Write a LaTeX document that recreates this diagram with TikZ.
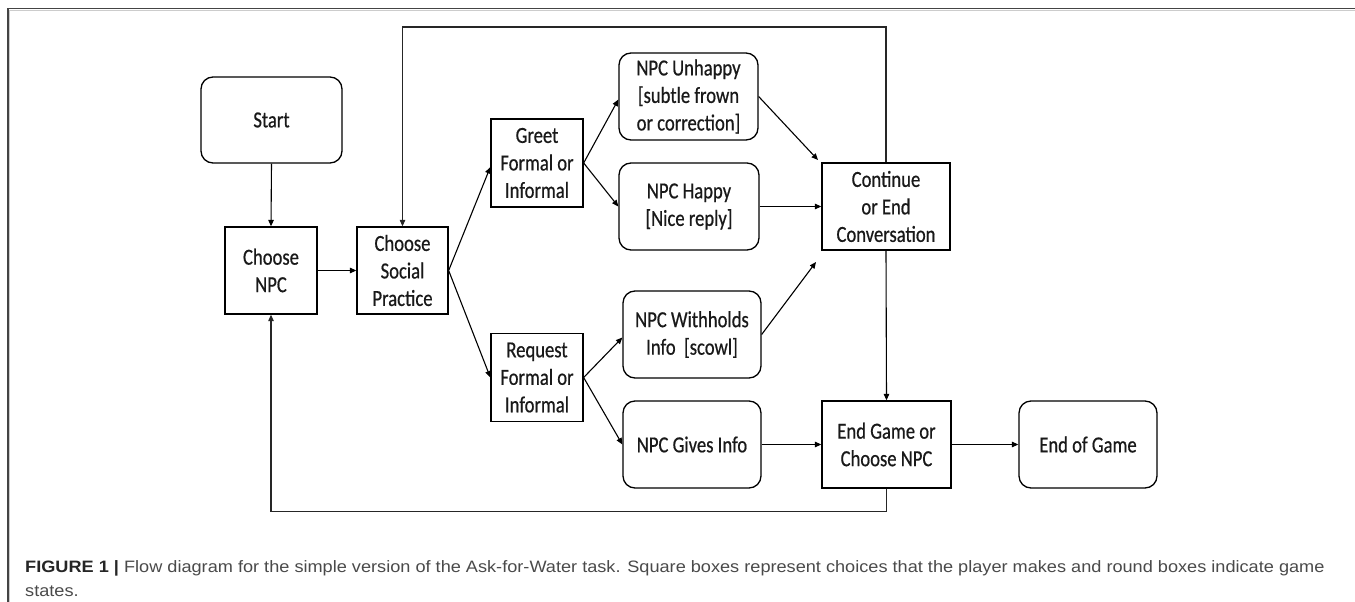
\documentclass[tikz,border=0pt]{standalone}
\usepackage{fontspec}
\setmainfont{Liberation Sans}
\newfontfamily\boxfont[FakeStretch=0.81,FakeBold=0.6]{Carlito}
\newfontfamily\capfont[FakeStretch=1.1]{Liberation Sans}
\usetikzlibrary{arrows.meta}
\definecolor{framecol}{HTML}{444444}
\definecolor{capgray}{HTML}{4A4A4A}
\tikzset{
  box/.style={draw=black, line width=1.3pt, align=center, inner sep=2pt,
    font=\boxfont\fontsize{23}{27.5}\selectfont, text=black!90},
  choice/.style={box, rectangle},
  gstate/.style={box, rectangle, rounded corners=12pt},
  arr/.style={draw=black, line width=1.1pt, -{Triangle[length=6.5pt,width=5.5pt]}},
  loopline/.style={draw=black!85, line width=1.1pt, -{Triangle[length=6.5pt,width=5.5pt]}},
  captext/.style={anchor=base west, inner sep=0pt, text=capgray,
    font=\capfont\fontsize{16.5}{24}\selectfont},
}
\begin{document}
\begin{tikzpicture}[x=1pt,y=-1pt]
\useasboundingbox (0,0) rectangle (1355,602);
% frame
\draw[black!20, line width=1pt] (9.5,602) -- (9.5,10.5) -- (1355,10.5);
\draw[framecol, line width=1.4pt] (8,602) -- (8,8.5) -- (1355,8.5);

% nodes
\node[gstate, minimum width=141pt, minimum height=86pt] (start) at (271.5,120) {Start};
\node[choice, minimum width=92pt, minimum height=87pt] (npc) at (271,270.5) {Choose\\NPC};
\node[choice, minimum width=91pt, minimum height=87pt] (practice) at (402.5,270.5) {Choose\\Social\\Practice};
\node[choice, minimum width=92pt, minimum height=88pt] (greet) at (537,163) {Greet\\Formal or\\Informal};
\node[choice, minimum width=92pt, minimum height=88pt] (request) at (537,377.5) {Request\\Formal or\\Informal};
\node[gstate, minimum width=139pt, minimum height=87pt] (unhappy) at (688.5,96.5) {NPC Unhappy\\{}[subtle frown\\or correction]};
\node[gstate, minimum width=140pt, minimum height=87pt] (happy) at (689,206.5) {NPC Happy\\{}[Nice reply]};
\node[gstate, minimum width=138pt, minimum height=87pt] (withholds) at (692,334.5) {NPC Withholds\\Info\ \ [scowl]};
\node[gstate, minimum width=138pt, minimum height=87pt] (gives) at (692,444.5) {NPC Gives Info};
\node[choice, minimum width=128pt, minimum height=87pt] (continue) at (886,206.5) {Continue\\or End\\Conversation};
\node[choice, minimum width=129pt, minimum height=87pt] (endgame) at (886.5,444.5) {End Game or\\Choose NPC};
\node[gstate, minimum width=138pt, minimum height=87pt] (endofgame) at (1088,444.5) {End of Game};

\coordinate (c1) at (818,160);
\coordinate (c2) at (816,262);
\coordinate (toprow) at (0,27);
\coordinate (botrow) at (0,511.5);

% connectors
\draw[arr] (start.south) -- (npc.north);
\draw[arr] (npc.east) -- (practice.west);
\draw[arr] (practice.east) -- ([yshift=-4pt]greet.west);
\draw[arr] (practice.east) -- (request.west);
\draw[arr] (greet.east) -- ([yshift=-3pt]unhappy.west);
\draw[arr] (greet.east) -- (happy.west);
\draw[arr] (request.east) -- ([yshift=-3pt]withholds.west);
\draw[arr] (request.east) -- (gives.west);
\draw[arr] (unhappy.east) -- (c1);
\draw[arr] (happy.east) -- (continue.west);
\draw[arr] (withholds.east) -- (c2);
\draw[arr] (continue.south) -- (endgame.north);
\draw[arr] (gives.east) -- (endgame.west);
\draw[arr] (endgame.east) -- (endofgame.west);
\draw[loopline] (continue.north) |- (practice.north |- toprow) -- (practice.north);
\draw[loopline] (endgame.south) |- (npc.south |- botrow) -- (npc.south);

% caption
\node[captext] (cap1) at (25,572)
  {{\bfseries\color{black!85}FIGURE 1 |} Flow diagram for the simple version of the Ask-for-Water task. Square boxes represent choices that the player makes and round boxes indicate game};
\node[captext] (cap2) at (25,596) {states.};
\end{tikzpicture}
\end{document}
